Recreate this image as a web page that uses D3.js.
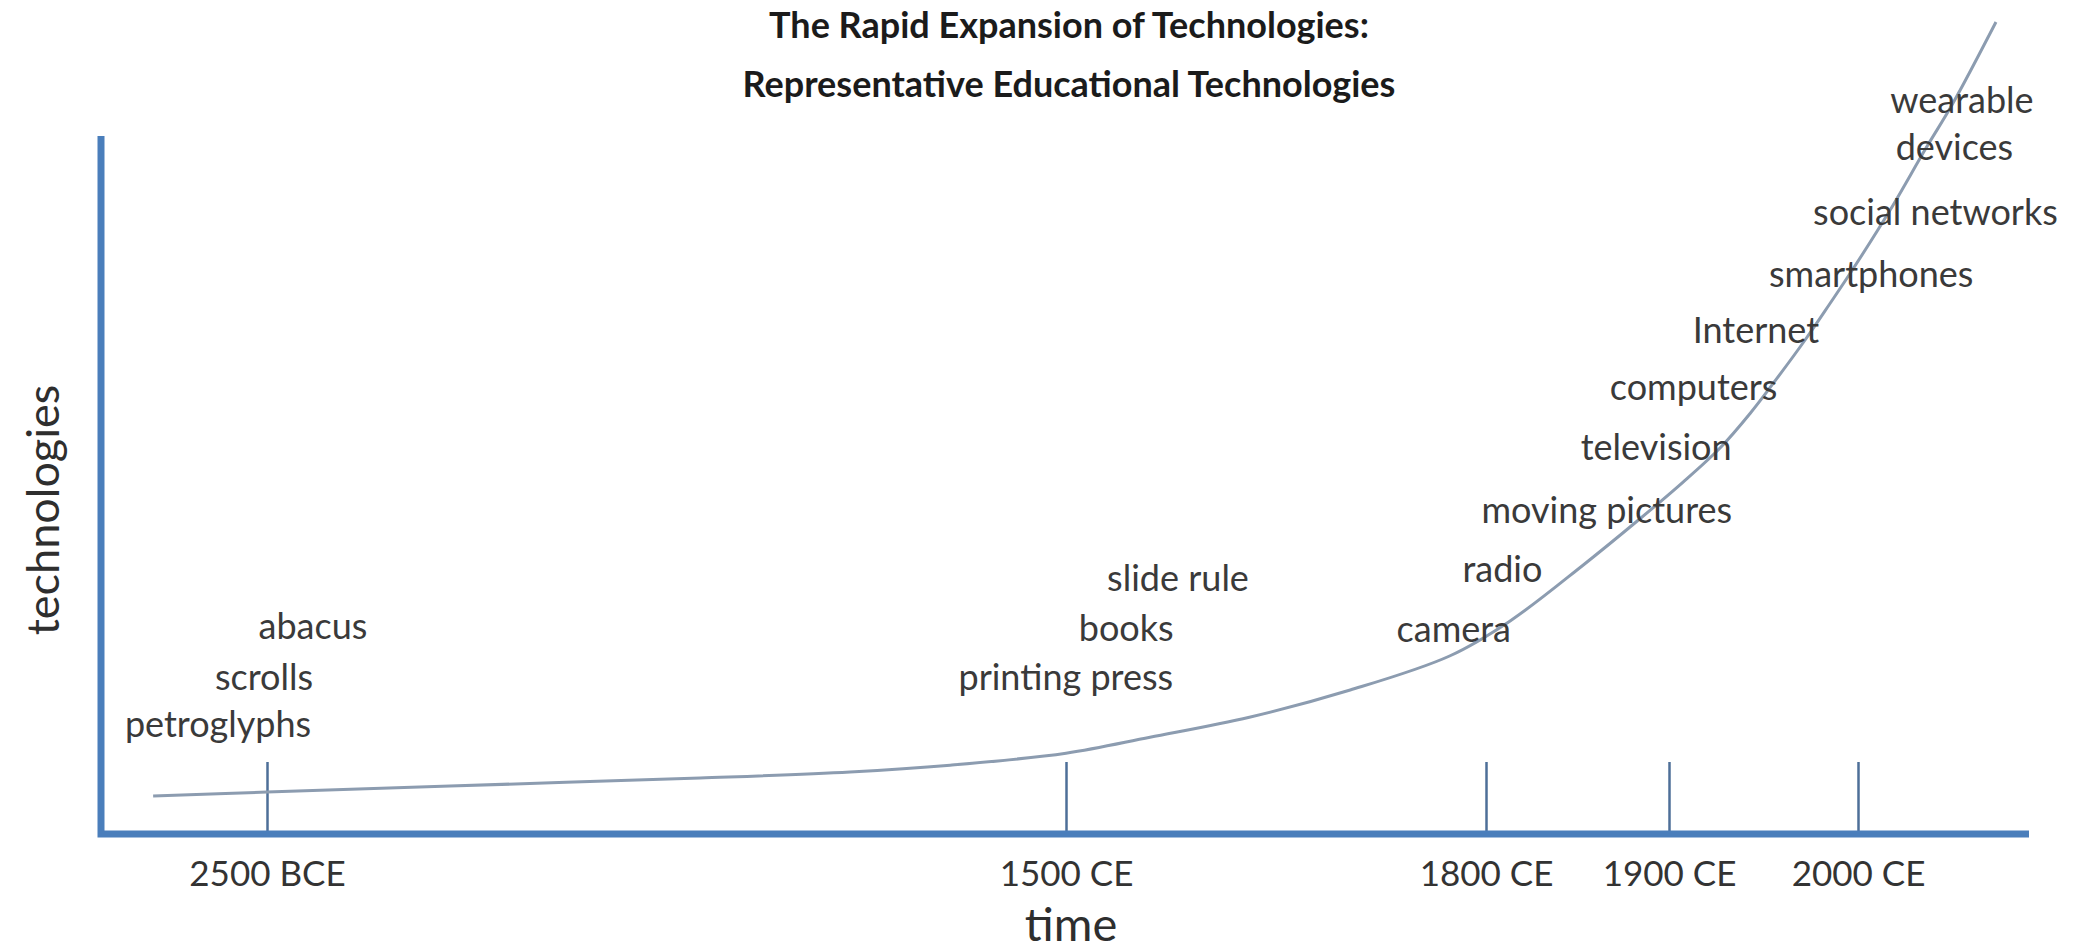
<!DOCTYPE html>
<html>
<head>
<meta charset="utf-8">
<script src="https://cdn.jsdelivr.net/npm/d3@7"></script>
<style>
  html, body { margin: 0; padding: 0; background: #ffffff; }
  svg { display: block; }
  text { font-family: Lato, "Open Sans", sans-serif; }
</style>
</head>
<body>
<svg id="chart" width="2074" height="951"></svg>
<script>
// ---------------- DATA ----------------
const titleLines = ["The Rapid Expansion of Technologies:", "Representative Educational Technologies"];
const xTitle = "time";
const yTitle = "technologies";

// era ticks on the (non-uniform) time axis
const tickYears  = [-2500, 1500, 1800, 1900, 2000];
const tickLabels = ["2500 BCE", "1500 CE", "1800 CE", "1900 CE", "2000 CE"];

// growth curve: year vs. relative number of technologies (0-100)
const curveYears  = [-3070, -2500, -1584, -332, 419, 920, 1500, 1560, 1631, 1703, 1774, 1813, 1853, 1882, 1907, 1927, 1943, 1956, 1972, 1985, 1997, 2017, 2036, 2050, 2073];
const curveValues = [4.75, 5.25, 6.0, 7.0, 7.75, 8.6, 10.1, 12.1, 14.6, 18.0, 22.25, 26.6, 33.6, 39.0, 43.9, 48.25, 52.6, 56.6, 61.75, 66.25, 70.5, 78.0, 85.75, 91.25, 101.5];

// technology annotations: label, year position (label centre), level (baseline)
const techNames  = ["petroglyphs", "scrolls", "abacus", "printing press", "books", "slide rule", "camera", "radio", "moving pictures", "television", "computers", "Internet", "smartphones", "social networks", "wearable", "devices"];
const techYears  = [-2745, -2515, -2270, 1499, 1543, 1580, 1777, 1809, 1866, 1893, 1913, 1946, 2007, 2041, 2055, 2051];
const techLevels = [12.1, 18.0, 24.4, 18.0, 24.1, 30.4, 24.0, 31.5, 38.9, 46.75, 54.25, 61.4, 68.4, 76.1, 90.1, 84.25];

// ---------------- LAYOUT ----------------
const W = 2074, H = 951;
const axisY = 834, axisX = 101, axisTop = 136, axisRight = 2029;

const x = d3.scaleLinear()
  .domain(tickYears)
  .range([267, 1066, 1486, 1669, 1858]);
const y = d3.scaleLinear().domain([0, 100]).range([axisY, 34]);

const svg = d3.select("#chart");

// title
svg.append("g").selectAll("text").data(titleLines).join("text")
  .attr("x", 1069)
  .attr("y", (d, i) => 38 + i * 59)
  .attr("text-anchor", "middle")
  .attr("font-size", 36)
  .attr("font-weight", 700)
  .attr("fill", "#1b1b1b")
  .text(d => d);

// ticks + tick labels via d3 axis
const axis = d3.axisBottom(x)
  .tickValues(tickYears)
  .tickFormat((d, i) => tickLabels[i])
  .tickSize(-72)
  .tickSizeOuter(0)
  .tickPadding(27);

const gx = svg.append("g").attr("transform", `translate(0,${axisY})`).call(axis);
gx.select(".domain").remove();
gx.selectAll(".tick line").attr("stroke", "#4e6f98").attr("stroke-width", 2.5);
gx.selectAll(".tick text")
  .attr("font-size", 35)
  .attr("fill", "#333333")
  .attr("font-family", "Lato, 'Open Sans', sans-serif");

// growth curve
const pts = curveYears.map((yr, i) => [yr, curveValues[i]]);
const line = d3.line().x(d => x(d[0])).y(d => y(d[1])).curve(d3.curveCatmullRom.alpha(0.5));
svg.append("path")
  .datum(pts)
  .attr("d", line)
  .attr("fill", "none")
  .attr("stroke", "#8c9cb0")
  .attr("stroke-width", 3);

// axes lines (L shape)
svg.append("path")
  .attr("d", `M${axisX},${axisTop} L${axisX},${axisY} L${axisRight},${axisY}`)
  .attr("fill", "none")
  .attr("stroke", "#4a7ebb")
  .attr("stroke-width", 7)
  .attr("stroke-linejoin", "miter");

// technology labels
svg.append("g").selectAll("text").data(techNames).join("text")
  .attr("x", (d, i) => x(techYears[i]))
  .attr("y", (d, i) => y(techLevels[i]))
  .attr("text-anchor", "middle")
  .attr("font-size", 36)
  .attr("fill", "#3a3a3a")
  .text(d => d);

// axis titles
svg.append("text")
  .attr("x", 1071).attr("y", 941)
  .attr("text-anchor", "middle")
  .attr("font-size", 47)
  .attr("fill", "#2e2e2e")
  .text(xTitle);

svg.append("text")
  .attr("transform", "translate(59,510) rotate(-90)")
  .attr("text-anchor", "middle")
  .attr("font-size", 45)
  .attr("fill", "#2e2e2e")
  .text(yTitle);
</script>
</body>
</html>
